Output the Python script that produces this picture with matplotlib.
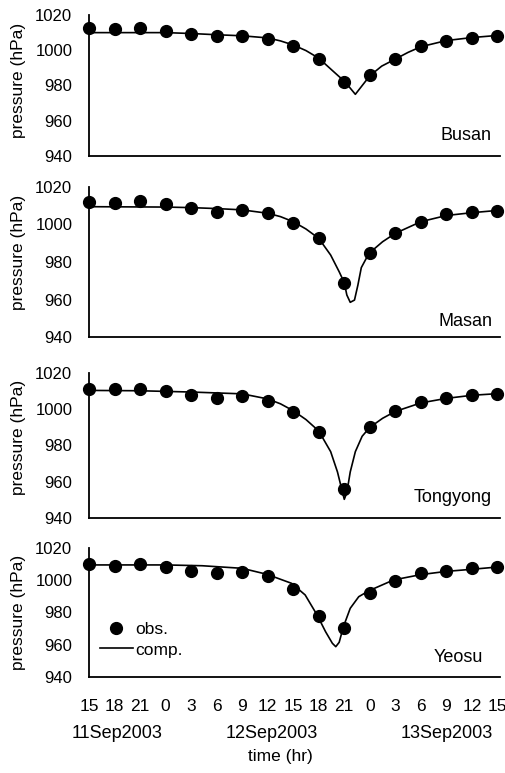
import matplotlib
matplotlib.use("Agg")
import matplotlib.pyplot as plt
from matplotlib.lines import Line2D

plt.rcParams['font.family'] = ['Liberation Sans', 'DejaVu Sans']

# ---------------- data ----------------
obs_hours = [0, 3, 6, 9, 12, 15, 18, 21, 24, 27, 30, 33, 36, 39, 42, 45, 48]
tick_labels = ['15', '18', '21', '0', '3', '6', '9', '12', '15', '18', '21',
               '0', '3', '6', '9', '12', '15']
date_labels = ['11Sep2003', '12Sep2003', '13Sep2003']
stations = ['Busan', 'Masan', 'Tongyong', 'Yeosu']

busan_obs = [1012.4, 1011.8, 1012.4, 1011.0, 1009.0, 1008.0, 1008.2, 1006.3, 1002.5,
             995.2, 981.9, 985.7, 994.9, 1002.3, 1005.3, 1007.2, 1008.0]
masan_obs = [1011.8, 1011.3, 1012.5, 1010.9, 1008.6, 1006.8, 1007.7, 1006.0, 1001.0,
             992.6, 969.0, 984.6, 995.3, 1001.5, 1005.4, 1006.5, 1007.2]
tongyong_obs = [1011.4, 1011.0, 1011.2, 1010.0, 1007.6, 1006.1, 1007.2, 1004.8, 998.6,
                987.5, 956.0, 990.1, 998.8, 1003.8, 1006.1, 1008.0, 1008.6]
yeosu_obs = [1009.9, 1009.0, 1009.9, 1008.4, 1005.7, 1004.3, 1005.3, 1002.8, 994.4,
             978.0, 970.6, 991.9, 999.5, 1004.3, 1005.9, 1007.4, 1008.0]

busan_comp_t = [0, 6, 9, 12, 15, 18, 21, 22.5, 24, 25.5, 27, 28.6, 30.1, 31.3, 33, 34.4,
                36, 37.5, 39, 42, 45, 48]
busan_comp_p = [1010.0, 1010.0, 1010.0, 1009.5, 1008.8, 1008.2, 1007.0, 1005.3, 1003.0,
                999.8, 995.5, 988.5, 982.0, 975.0, 985.5, 991.0, 995.0, 998.8, 1002.0,
                1005.5, 1007.2, 1008.4]

masan_comp_t = [0, 9, 12, 15, 18, 21, 22.5, 24, 25.5, 27, 28.4, 29.4, 30.0, 30.3, 30.7,
                31.2, 31.6, 32.0, 32.9, 34.5, 36, 39, 42, 45, 48]
masan_comp_p = [1009.5, 1009.3, 1009.0, 1008.5, 1007.8, 1006.0, 1004.2, 1001.5, 997.6,
                992.6, 983.7, 974.8, 969.0, 962.4, 958.5, 959.7, 967.7, 977.0, 984.6,
                990.8, 995.3, 1001.5, 1004.8, 1006.3, 1007.5]

tongyong_comp_t = [0, 6, 12, 18, 21, 22.5, 24, 25.5, 27, 28.4, 29.2, 29.8, 30.0, 30.3,
                   30.7, 31.3, 32.1, 33, 34.5, 36, 39, 42, 45, 48]
tongyong_comp_p = [1010.4, 1010.2, 1009.5, 1008.5, 1005.7, 1003.0, 999.2, 994.3, 988.0,
                   976.6, 965.4, 954.0, 950.3, 954.0, 965.4, 976.6, 985.1, 990.0, 995.0,
                   998.8, 1003.5, 1006.0, 1007.7, 1008.6]

yeosu_comp_t = [0, 9, 13.3, 18, 20.9, 23.8, 25.4, 26.8, 27.8, 28.6, 29.0, 29.4, 29.9,
                30.7, 31.7, 32.9, 35.8, 39, 42, 45, 48]
yeosu_comp_p = [1009.5, 1009.5, 1009.0, 1007.4, 1003.7, 998.1, 990.9, 978.5, 968.1,
                960.9, 958.8, 961.5, 971.2, 982.6, 989.8, 993.5, 1000.2, 1003.5,
                1005.5, 1006.8, 1008.2]

obs_series = [busan_obs, masan_obs, tongyong_obs, yeosu_obs]
comp_series = [(busan_comp_t, busan_comp_p), (masan_comp_t, masan_comp_p),
               (tongyong_comp_t, tongyong_comp_p), (yeosu_comp_t, yeosu_comp_p)]
yticks = [940, 960, 980, 1000, 1020]

# ---------------- layout ----------------
W, H = 506, 773
fig = plt.figure(figsize=(W / 100, H / 100), dpi=100)
fig.patch.set_facecolor('white')


def fx(px):
    return px / W


def fy(py):
    return 1 - py / H


panels = [(15, 156), (187, 337), (373, 518), (548, 677)]
ylabel_centers = [80, 252, 437, 612]
station_pos = [(492, 135), (493, 322), (492, 497), (483, 658)]
ax_left, ax_right = 89, 500

axes = []
for i, (top, bot) in enumerate(panels):
    ax = fig.add_axes([fx(ax_left), fy(bot), (ax_right - ax_left) / W, (bot - top) / H])
    axes.append(ax)
    ct, cp = comp_series[i]
    ax.plot(ct, cp, color='black', lw=1.2, clip_on=False, zorder=2,
            solid_joinstyle='round')
    ax.plot(obs_hours, obs_series[i], 'o', color='black', ms=8.5, clip_on=False, zorder=3)
    ax.set_xlim(0, 48.3)
    ax.set_ylim(940, 1020)
    ax.set_yticks(yticks)
    ax.set_yticklabels([str(v) for v in yticks])
    ax.set_xticks(obs_hours)
    for s in ['top', 'right']:
        ax.spines[s].set_visible(False)
    for s in ['left', 'bottom']:
        ax.spines[s].set_linewidth(1.3)
        ax.spines[s].set_color('black')
    ax.tick_params(axis='y', length=0, pad=12, labelsize=12)
    if i == 3:
        ax.set_xticklabels(tick_labels)
        ax.tick_params(axis='x', length=0, pad=16, labelsize=12.5)
    else:
        ax.tick_params(axis='x', length=0, labelbottom=False)
    fig.text(fx(19), fy(ylabel_centers[i]), 'pressure (hPa)', rotation=90,
             ha='center', va='center', fontsize=12.5)
    sx, sy = station_pos[i]
    fig.text(fx(sx), fy(sy), stations[i], ha='right', va='center', fontsize=13)

# legend in last panel
handles = [Line2D([], [], marker='o', color='black', ls='none', ms=8.5),
           Line2D([], [], color='black', lw=1.2)]
leg = axes[3].legend(handles, ['obs.', 'comp.'], loc='upper left',
                     bbox_to_anchor=(fx(100), fy(622)), bbox_transform=fig.transFigure,
                     frameon=False, fontsize=12.5, handlelength=1.9, handletextpad=0.15,
                     labelspacing=0.3, borderpad=0, borderaxespad=0)

date_x = [117, 272, 447]
for lbl, x in zip(date_labels, date_x):
    fig.text(fx(x), fy(734), lbl, ha='center', va='center', fontsize=13)

fig.text(fx(280), fy(757), 'time (hr)', ha='center', va='center', fontsize=12.5)

fig.savefig('out.png', dpi=100, facecolor='white')
